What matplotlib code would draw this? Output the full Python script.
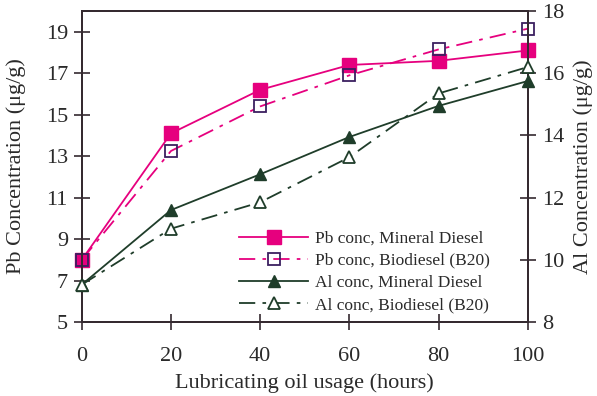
import matplotlib
matplotlib.use("Agg")
import matplotlib.pyplot as plt

plt.rcParams['font.family'] = ['Liberation Serif', 'DejaVu Serif']

# lubricating oil usage (hours)
hours = [0, 20, 40, 60, 80, 100]

# Pb concentration, ug/g (left axis)
pb_mineral = [8.0, 14.1, 16.2, 17.4, 17.6, 18.1]
pb_b20 = [8.0, 13.25, 15.4, 16.9, 18.15, 19.15]

# Al concentration, ug/g (right axis)
al_mineral = [9.2, 11.6, 12.75, 13.95, 14.95, 15.75]
al_b20 = [9.2, 11.0, 11.85, 13.3, 15.35, 16.2]

pb_ticks = [5, 7, 9, 11, 13, 15, 17, 19]
al_ticks = [8, 10, 12, 14, 16, 18]
x_ticks = [0, 20, 40, 60, 80, 100]

pink = '#e6007e'
purple = '#3b2060'
green = '#1f3d2a'
axcol = '#352a30'
txtcol = '#2a2a2a'
dashdot = (0, (9, 4, 2, 4))

fig = plt.figure(figsize=(5.97, 3.96), dpi=100)
ax = fig.add_subplot(111)
fig.subplots_adjust(left=0.137, right=0.884, top=0.972, bottom=0.187)
ax2 = ax.twinx()

l1, = ax.plot(hours, pb_mineral, '-', color=pink, lw=1.3, marker='s', ms=10,
              mfc=pink, mec=pink, label='Pb conc, Mineral Diesel', zorder=3, clip_on=False)
l2, = ax.plot(hours, pb_b20, color=pink, lw=1.3, linestyle=dashdot, marker='s', ms=8,
              mfc='none', mec=purple, mew=1.3, label='Pb conc, Biodiesel (B20)',
              zorder=4, clip_on=False)
l3, = ax2.plot(hours, al_mineral, '-', color=green, lw=1.3, marker='^', ms=9,
               mfc=green, mec=green, label='Al conc, Mineral Diesel', zorder=3, clip_on=False)
l4, = ax2.plot(hours, al_b20, color=green, lw=1.3, linestyle=dashdot, marker='^', ms=9,
               mfc='white', mec=green, mew=1.3, label='Al conc, Biodiesel (B20)',
               zorder=4, clip_on=False)

ax.set_xlim(0, 100)
ax.set_ylim(5, 20)
ax2.set_ylim(8, 18)
ax.set_xticks(x_ticks)
ax.set_yticks(pb_ticks)
ax2.set_yticks(al_ticks)

for a in (ax, ax2):
    for s in a.spines.values():
        s.set_color(axcol)
        s.set_linewidth(1.4)
    a.tick_params(direction='inout', length=12, width=1.2, color=axcol,
                  labelsize=16, labelcolor=txtcol)
ax.tick_params(axis='x', pad=12)
ax.tick_params(axis='y', pad=4)
ax2.tick_params(axis='y', pad=4)

ax.set_xlabel('Lubricating oil usage (hours)', fontsize=16, color=txtcol, labelpad=5)
ax.set_ylabel('Pb Concentration (μg/g)', fontsize=16, color=txtcol, labelpad=14)
ax2.set_ylabel('Al Concentration (μg/g)', fontsize=16, color=txtcol, labelpad=7)

leg = ax2.legend(handles=[l1, l2, l3, l4], loc='lower right', bbox_to_anchor=(0.935, 0.0),
                 frameon=False, fontsize=12.5, handlelength=4.0, handletextpad=0.4,
                 labelspacing=0.35, borderaxespad=0.1)
for t in leg.get_texts():
    t.set_color(txtcol)

fig.savefig('out.png', dpi=100)
